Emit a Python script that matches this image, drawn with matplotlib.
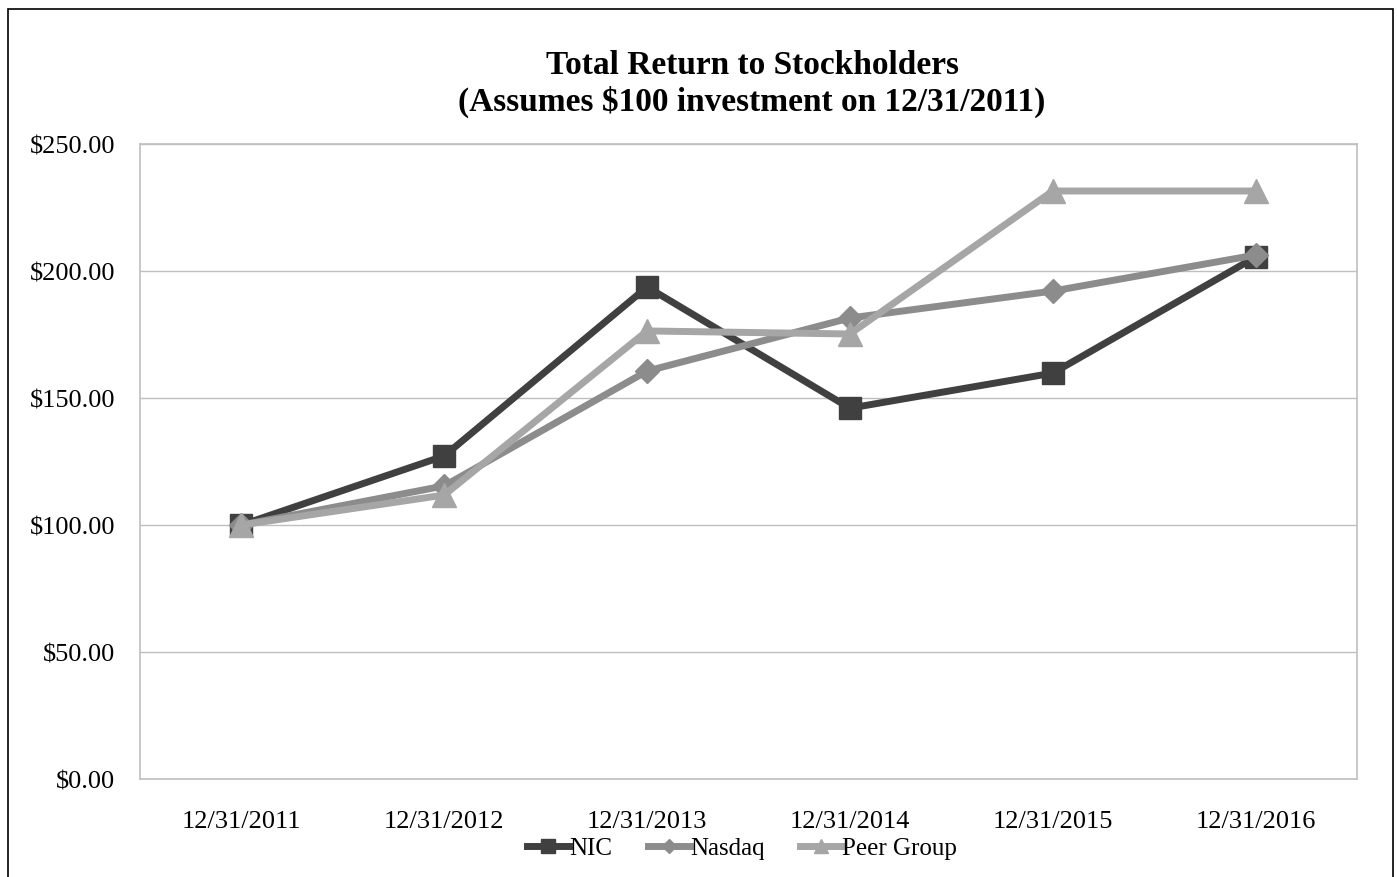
import matplotlib
matplotlib.use("Agg")
import matplotlib.pyplot as plt
from matplotlib.patches import Rectangle

plt.rcParams['font.family'] = ['Liberation Serif', 'DejaVu Serif']

dates = ['12/31/2011', '12/31/2012', '12/31/2013', '12/31/2014', '12/31/2015', '12/31/2016']
nic = [100.0, 127.2, 193.7, 146.0, 159.8, 205.5]
nasdaq = [100.0, 115.4, 160.6, 181.5, 192.1, 206.3]
peer = [100.0, 111.8, 176.4, 175.2, 231.5, 231.5]
yticks = [0, 50, 100, 150, 200, 250]

fig = plt.figure(figsize=(13.97, 8.78), dpi=100)
ax = fig.add_axes([140/1397, 1 - 780/878, (1357-140)/1397, (780-145)/878])

# outer chart frame (bottom edge runs off the page)
fig.patches.append(Rectangle((8/1397, -0.05), (1393-8)/1397, 1.05 - 10/878,
                             transform=fig.transFigure, fill=False,
                             edgecolor='black', linewidth=1.2, clip_on=False))

x = range(len(dates))
ax.plot(x, nic, color='#404040', lw=5, marker='s', ms=16, label='NIC', zorder=3)
ax.plot(x, nasdaq, color='#8C8C8C', lw=5, marker='D', ms=12, label='Nasdaq', zorder=4)
ax.plot(x, peer, color='#A6A6A6', lw=5, marker='^', ms=17, label='Peer Group', zorder=5)

ax.set_xlim(-0.5, len(dates) - 0.5)
ax.set_ylim(0, 250)
ax.set_xticks(list(x))
ax.set_xticklabels(dates, fontsize=19)
ax.set_yticks(yticks)
ax.set_yticklabels(['${:.2f}'.format(v) for v in yticks], fontsize=19)
ax.tick_params(length=0)
ax.tick_params(axis='x', pad=22)
ax.tick_params(axis='y', pad=18)
ax.grid(axis='y', color='#BFBFBF', lw=1)
ax.set_axisbelow(True)
for s in ax.spines.values():
    s.set_color('#BFBFBF')
    s.set_linewidth(1.2)

tx = 752/1397
fig.text(tx, 1 - 65/878, 'Total Return to Stockholders', ha='center', va='center',
         fontsize=24, fontweight='bold')
fig.text(tx, 1 - 102/878, '(Assumes $100 investment on 12/31/2011)', ha='center', va='center',
         fontsize=24, fontweight='bold')

fig.legend(loc='center', bbox_to_anchor=(742/1397, 1 - 849/878), ncol=3, frameon=False,
           fontsize=18, handlelength=1.7, handletextpad=0.0, columnspacing=1.4,
           markerscale=0.6)

fig.savefig('out.png', dpi=100)
